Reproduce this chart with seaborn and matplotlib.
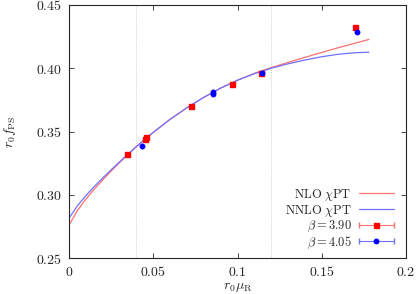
import numpy as np
import pandas as pd
import matplotlib
matplotlib.use('Agg')
import matplotlib.pyplot as plt
import seaborn as sns
from matplotlib.container import ErrorbarContainer
from matplotlib.legend_handler import HandlerErrorbar

# ============================================
# Data
# ============================================
# fit curves, NLO and NNLO chiral PT
FIT_X = [0.0, 0.005, 0.010, 0.015, 0.020, 0.025, 0.030, 0.035, 0.040, 0.045,
         0.050, 0.060, 0.070, 0.080, 0.090, 0.100, 0.110, 0.120, 0.130, 0.140,
         0.150, 0.160, 0.170, 0.178]
NLO_Y = [0.2760, 0.2875, 0.2965, 0.3045, 0.3117, 0.3187, 0.3254, 0.3318, 0.3380, 0.3438,
         0.3493, 0.3596, 0.3688, 0.3770, 0.3843, 0.3906, 0.3960, 0.4005, 0.4046, 0.4086,
         0.4125, 0.4163, 0.4199, 0.4228]
NNLO_Y = [0.2814, 0.2913, 0.2993, 0.3065, 0.3132, 0.3197, 0.3260, 0.3321, 0.3381, 0.3438,
          0.3493, 0.3596, 0.3688, 0.3770, 0.3843, 0.3905, 0.3957, 0.4000, 0.4035, 0.4065,
          0.4091, 0.4111, 0.4123, 0.4127]

# lattice points, beta = 3.90
B390_X = [0.0342, 0.0450, 0.0455, 0.0726, 0.0966, 0.1138, 0.1700]
B390_Y = [0.3320, 0.3440, 0.3460, 0.3705, 0.3877, 0.3966, 0.4330]
B390_E = [0.0010, 0.0012, 0.0012, 0.0010, 0.0008, 0.0010, 0.0012]

# lattice points, beta = 4.05
B405_X = [0.0431, 0.0857, 0.0857, 0.1144, 0.1711]
B405_Y = [0.3385, 0.3800, 0.3815, 0.3960, 0.4285]
B405_E = [0.0025, 0.0020, 0.0020, 0.0010, 0.0010]

X_TICKS = [0, 0.05, 0.1, 0.15, 0.2]
X_LABELS = ['0', '0.05', '0.1', '0.15', '0.2']
Y_TICKS = [0.25, 0.30, 0.35, 0.40, 0.45]
Y_LABELS = ['0.25', '0.30', '0.35', '0.40', '0.45']
FIT_RANGE = [0.04, 0.12]

# ============================================
# Style
# ============================================
sns.set_style('ticks')
plt.rcParams['mathtext.fontset'] = 'cm'
plt.rcParams['font.family'] = ['DejaVu Serif']
plt.rcParams['font.size'] = 10
plt.rcParams['axes.linewidth'] = 0.8
plt.rcParams['xtick.direction'] = 'in'
plt.rcParams['ytick.direction'] = 'in'
plt.rcParams['xtick.major.size'] = 3.6
plt.rcParams['ytick.major.size'] = 3.6

RED, RED_LIGHT = '#ff0000', '#ff7070'
BLUE, BLUE_LIGHT = '#0000ff', '#7070ff'

fig = plt.figure(figsize=(4.16, 2.94), dpi=100)
ax = fig.add_axes([69 / 416, 1 - 258 / 294, 337 / 416, 253 / 294])

fits = pd.DataFrame({'x': FIT_X, 'nlo': NLO_Y, 'nnlo': NNLO_Y})

for xv in FIT_RANGE:
    ax.axvline(xv, color='#c4c4c4', lw=0.6, ls=(0, (1, 1.5)), zorder=0)

sns.lineplot(data=fits, x='x', y='nlo', ax=ax, color=RED_LIGHT, lw=0.9,
             label=r'$\rm NLO\ \chi PT$', legend=False)
sns.lineplot(data=fits, x='x', y='nnlo', ax=ax, color=BLUE_LIGHT, lw=0.9,
             label=r'$\rm NNLO\ \chi PT$', legend=False)

ax.errorbar(B390_X, B390_Y, yerr=B390_E, fmt='s', ms=3.6, color=RED,
            ecolor=RED_LIGHT, elinewidth=0.8, capsize=0, zorder=3)
ax.errorbar(B405_X, B405_Y, yerr=B405_E, fmt='o', ms=3.2, color=BLUE,
            ecolor=BLUE_LIGHT, elinewidth=0.8, capsize=0, zorder=4)

# legend proxies drawn gnuplot-style (horizontal bar with end caps)
ax.errorbar([np.nan], [np.nan], xerr=[0.0], fmt='s', ms=3.6, color=RED,
            ecolor=RED_LIGHT, elinewidth=0.8, capsize=2.5,
            label=r'$\beta = 3.90$')
ax.errorbar([np.nan], [np.nan], xerr=[0.0], fmt='o', ms=3.2, color=BLUE,
            ecolor=BLUE_LIGHT, elinewidth=0.8, capsize=2.5,
            label=r'$\beta = 4.05$')

ax.set_xlim(0, 0.2)
ax.set_ylim(0.25, 0.45)
ax.set_xticks(X_TICKS)
ax.set_xticklabels(['$%s$' % s for s in X_LABELS])
ax.set_yticks(Y_TICKS)
ax.set_yticklabels(['$%s$' % s for s in Y_LABELS])
ax.tick_params(top=True, right=True, width=0.6, pad=5)
for sp in ax.spines.values():
    sp.set_visible(True)

ax.set_xlabel(r'$r_0\mu_{\rm R}$', labelpad=1)
ax.set_ylabel(r'$r_0 f_{\rm PS}$', labelpad=13)

handles, labels = ax.get_legend_handles_labels()
leg = ax.legend(handles, labels, loc='lower right', bbox_to_anchor=(0.99, -0.005),
                frameon=False, markerfirst=False, numpoints=1, fontsize=9,
                handlelength=2.8, handletextpad=0.6, labelspacing=0.0,
                borderpad=0.2,
                handler_map={ErrorbarContainer: HandlerErrorbar(xerr_size=1.4)})

plt.savefig('out.png', dpi=100)
